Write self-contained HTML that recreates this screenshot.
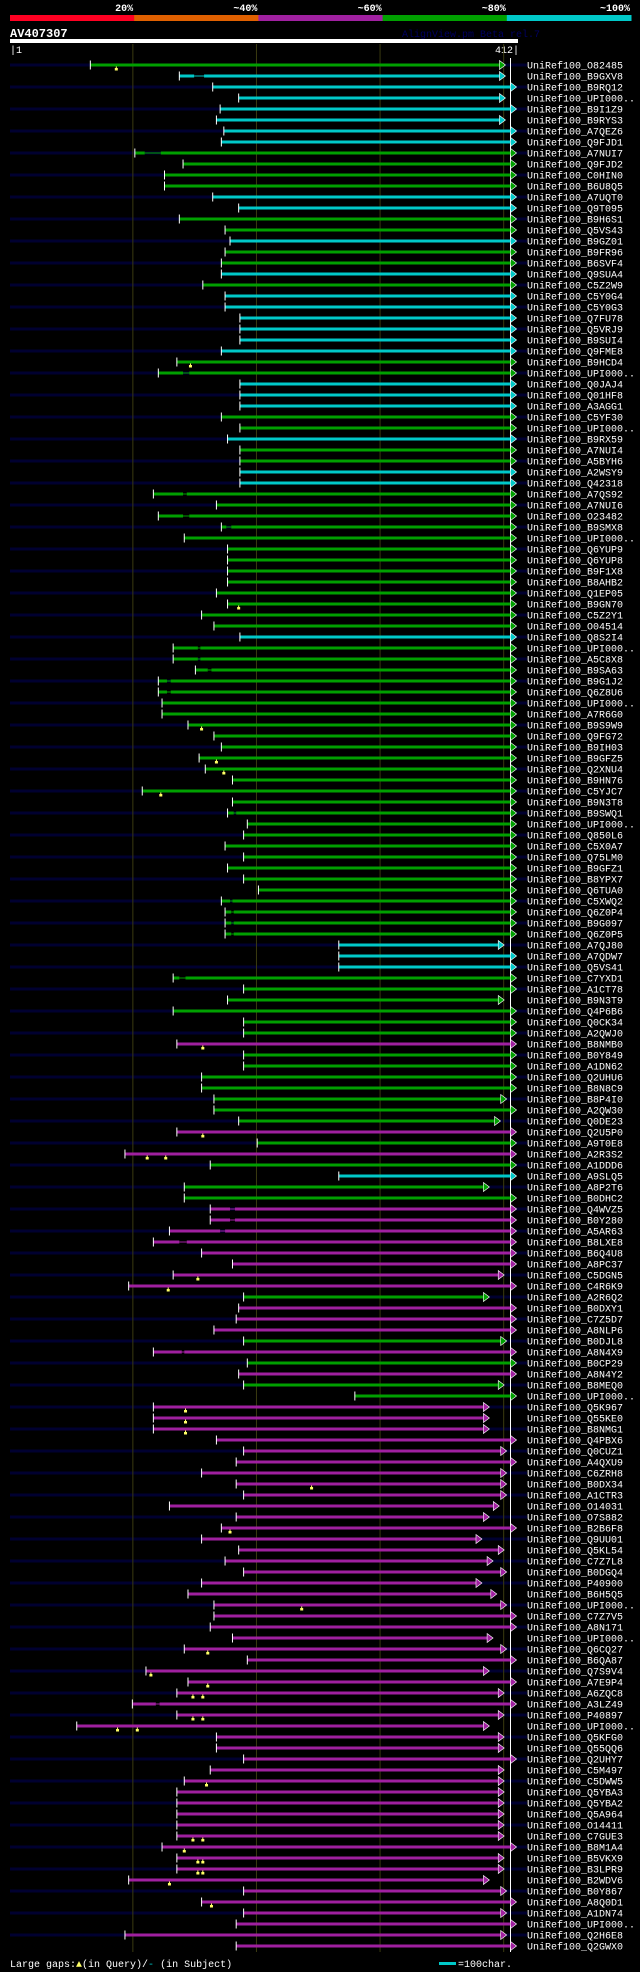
<!DOCTYPE html>
<html><head><meta charset="utf-8">
<style>
html,body{margin:0;padding:0;background:#000;}
svg{display:block;}
text{font-family:"Liberation Mono",monospace;}
</style></head>
<body>
<svg id="chart" width="640" height="1972" xmlns="http://www.w3.org/2000/svg">
  <rect x="0" y="0" width="640" height="1972" fill="#000"/>
  <g id="scale"></g>
  <text x="10" y="37" fill="#fff" font-size="12" font-weight="bold">AV407307</text>
  <text x="402" y="37" fill="#000060" font-size="10">AlignView.pm Beta rel.7</text>
  <rect x="10" y="39" width="508" height="4" fill="#fff"/>
  <text x="10" y="53" fill="#fff" font-size="10">|1</text>
  <text x="519" y="53" fill="#fff" font-size="10" text-anchor="end">412|</text>
  <g id="stripes"></g>
  <g id="grid"></g>
  <line x1="510.5" x2="510.5" y1="58" y2="1952" stroke="#fff" stroke-width="1"/>
  <g id="rows"></g>
  <text x="10" y="1967" fill="#fff" font-size="10">Large gaps:<tspan fill="#ffff66">▲</tspan>(in Query)/<tspan fill="#00c8c8">-</tspan> (in Subject)</text>
  <rect x="439" y="1962" width="17" height="3" fill="#00c8c8"/>
  <text x="458" y="1967" fill="#fff" font-size="10">=100char.</text>
</svg>
<script>
const scaleLabels = ["20%","~40%","~60%","~80%","~100%"];
const scaleColors = ["#ff0022","#e06000","#a020a0","#00a000","#00c8c8"];
const gridTicks = [100,200,300,400];
const labels = ["O82485","B9GXV8","B9RQ12","UPI000..","B9I1Z9","B9RYS3","A7QEZ6","Q9FJD1","A7NUI7","Q9FJD2","C0HIN0","B6U8Q5","A7UQT0","Q9T095","B9H6S1","Q5VS43","B9GZ01","B9FR96","B6SVF4","Q9SUA4","C5Z2W9","C5Y0G4","C5Y0G3","Q7FU78","Q5VRJ9","B9SUI4","Q9FME8","B9HCD4","UPI000..","Q0JAJ4","Q01HF8","A3AGG1","C5YF30","UPI000..","B9RX59","A7NUI4","A5BYH6","A2WSY9","Q42318","A7QS92","A7NUI6","O23482","B9SMX8","UPI000..","Q6YUP9","Q6YUP8","B9F1X8","B8AHB2","Q1EP05","B9GN70","C5Z2Y1","O04514","Q8S2I4","UPI000..","A5C8X8","B9SA63","B9G1J2","Q6Z8U6","UPI000..","A7R6G0","B9S9W9","Q9FG72","B9IH03","B9GFZ5","Q2XNU4","B9HN76","C5YJC7","B9N3T8","B9SWQ1","UPI000..","Q850L6","C5X0A7","Q75LM0","B9GFZ1","B8YPX7","Q6TUA0","C5XWQ2","Q6Z0P4","B9G097","Q6Z0P5","A7QJ80","A7QDW7","Q5VS41","C7YXD1","A1CT78","B9N3T9","Q4P6B6","Q0CK34","A2QWJ0","B8NMB0","B0Y849","A1DN62","Q2UHU6","B8N8C9","B8P4I0","A2QW30","Q0DE23","Q2U5P0","A9T0E8","A2R3S2","A1DDD6","A9SLQ5","A8P2T6","B0DHC2","Q4WVZ5","B0Y280","A5AR63","B8LXE8","B6Q4U8","A8PC37","C5DGN5","C4R6K9","A2R6Q2","B0DXY1","C7Z5D7","A8NLP6","B0DJL8","A8N4X9","B0CP29","A8N4Y2","B8MEQ0","UPI000..","Q5K967","Q55KE0","B8NMG1","Q4PBX6","Q0CUZ1","A4QXU9","C6ZRH8","B0DX34","A1CTR3","O14031","O7S882","B2B6F8","Q9UU01","Q5KL54","C7Z7L8","B0DGQ4","P40900","B6H5Q5","UPI000..","C7Z7V5","A8N171","UPI000..","Q6CQ27","B6QA87","Q7S9V4","A7E9P4","A6ZQC8","A3LZ49","P40897","UPI000..","Q5KFG0","Q55QQ6","Q2UHY7","C5M497","C5DWW5","Q5YBA3","Q5YBA2","Q5A964","O14411","C7GUE3","B8M1A4","B5VKX9","B3LPR9","B2WDV6","B0Y867","A8Q0D1","A1DN74","UPI000..","Q2H6E8","Q2GWX0"];
const colorCodes = "gcccccccggggccggcggcgc" + "cccccggcccggcggccgggggggggggg" + "gcggggggggggggggggggggggggggg" + "cccggggggmggggg" + "ggmgmgcggmmmmmmmmgmmmgmgmgg" + "mmmmmmmmmmmmmmmmmmmmmmmmmmmmmmmmmmmmmmmmmmmmmmmmmm";
const starts = [66,138,165,186,171,168,174,172,102,141,126,126,165,186,138,175,179,175,172,172,157,175,
175,187,187,187,172,136,121,187,187,187,172,187,177,187,187,187,187,117,168,121,172,142,177,177,177,177,168,177,156,
166,187,133,133,151,121,121,124,124,145,166,172,154,159,181,108,181,177,193,190,175,190,177,190,202,172,175,175,175,
267,267,267,133,190,177,133,190,190,136,190,190,156,156,166,
166,186,136,201,94,163,267,142,142,163,163,130,117,156,181,133,97,190,186,184,166,190,117,193,186,190,280,
117,117,117,168,190,184,156,184,190,130,184,172,156,186,175,190,156,145,166,166,163,181,142,193,111,145,
136,100,136,55,168,168,190,163,142,136,136,136,136,136,124,136,136,97,190,156,190,184,94,184];
const ends = [397,397,406,397,406,397,406,406,406,406,406,406,406,406,406,406,406,406,406,406,406,406,
406,406,406,406,406,406,406,406,406,406,406,406,406,406,406,406,406,406,406,406,406,406,406,406,406,406,406,406,406,
406,406,406,406,406,406,406,406,406,406,406,406,406,406,406,406,406,406,406,406,406,406,406,406,406,406,406,406,406,
396,406,406,406,406,396,406,406,406,406,406,406,406,406,398,
406,393,406,406,406,406,406,384,406,406,406,406,406,406,406,396,406,384,406,406,406,398,406,406,406,396,406,
384,384,384,406,398,406,398,398,398,392,384,406,378,396,387,398,378,390,398,406,406,387,398,406,384,406,
396,406,396,384,396,396,406,396,396,396,396,396,396,396,406,396,396,384,398,406,398,406,398,406];
const queryGaps = {0:[87],27:[147],49:[186],60:[156],63:[168],64:[174],66:[123],89:[157],97:[157],99:[112,127],110:[153],111:[129],122:[143],123:[143],124:[143],129:[245],133:[179],140:[237],144:[161],146:[115],147:[161],148:[149,157],150:[149,157],151:[88,104],156:[160],161:[149,157],162:[142],163:[153,157],164:[153,157],165:[130],167:[164]};
const subjectGaps = {1:[150,158],8:[110,123],28:[141,146],39:[141,144],41:[141,146],42:[176,180],53:[153,155],54:[153,155],55:[161,164],56:[128,131],57:[128,131],68:[182,184],76:[179,181],77:[180,182],78:[180,182],79:[180,182],83:[138,143],104:[179,183],105:[179,183],106:[171,175],107:[138,144],117:[140,142],149:[119,122]};

const NS = "http://www.w3.org/2000/svg";
const x0 = 10, x1 = 518, qMax = 412;
function xScale(q){ return x0 + (q - 1) * (x1 - x0) / (qMax - 1); }
function rowY(i){ return 65 + 11 * i; }
const palette = {g:"#00a000", c:"#00c8c8", m:"#a020a0"};
function mk(tag, attrs, parent){ const e = document.createElementNS(NS, tag); for (const k in attrs) e.setAttribute(k, attrs[k]); parent.appendChild(e); return e; }

const sg = document.getElementById('scale');
const segW = (631 - 10) / scaleColors.length;
scaleColors.forEach((c, i) => {
  const r = mk('rect', {x: 10 + i*segW, y: 15, width: segW + 0.5, height: 6, fill: c}, sg);
  
  
  const t = mk('text', {x: 10 + (i+1)*segW - 1, y: 11, fill: '#fff', 'font-size': 10, 'font-weight': 'bold', 'text-anchor': 'end'}, sg);
  t.textContent = scaleLabels[i];
  
  
});

const stg = document.getElementById('stripes');
labels.forEach((lab, i) => {
  if (i % 2 === 0) {
    const s = mk('rect', {x: 10, y: rowY(i)-1.5, width: 517, height: 3, fill: '#000030'}, stg);
    
    
  }
});

const gg = document.getElementById('grid');
gridTicks.forEach(q => {
  const l = mk('line', {x1: xScale(q)+0.5, x2: xScale(q)+0.5, y1: 44, y2: 1952, stroke: '#3a3a10', 'stroke-width': 1}, gg);
  
  
});

const rg = document.getElementById('rows');
labels.forEach((lab, i) => {
  const y = rowY(i);
  const g = mk('g', {}, rg);
  
  
  const col = palette[colorCodes[i]] || palette.m;
  const xs = xScale(starts[i]), xe = xScale(ends[i]);
  const sgaps = subjectGaps[i];
  if (sgaps) {
    const ga = xScale(sgaps[0]), gb = xScale(sgaps[1]);
    const s1 = mk('rect', {x: xs, y: y-1.5, width: ga-xs, height: 3, fill: col}, g);
    
    
    const s2 = mk('rect', {x: ga, y: y-0.5, width: gb-ga, height: 1, fill: col}, g);
    
    
    const s3 = mk('rect', {x: gb, y: y-1.5, width: xe-gb, height: 3, fill: col}, g);
    
    
  } else {
    const bar = mk('rect', {x: xs, y: y-1.5, width: xe-xs, height: 3, fill: col}, g);
    
    
  }
  const tick = mk('rect', {x: xs-0.5, y: y-4.5, width: 1, height: 9, fill: '#fff'}, g);
  
  
  const arr = mk('polygon', {points: `${xe},${y-4.5} ${xe+6},${y} ${xe},${y+4.5}`, fill: col, stroke: '#fff', 'stroke-width': 0.6}, g);
  
  
  (queryGaps[i] || []).forEach(q => {
    const gx = xScale(q);
    const st = mk('rect', {x: gx-0.5, y: y+1.5, width: 1, height: 2, fill: '#ffff66'}, g);
    
    
    const sq = mk('rect', {x: gx-1.5, y: y+3, width: 3, height: 2.5, fill: '#ffff66'}, g);
    
    
  });
  const t = mk('text', {x: 527, y: y+3.5, fill: '#fff', 'font-size': 10}, g);
  t.textContent = 'UniRef100_' + lab;
  
  
});
</script>
</body></html>
